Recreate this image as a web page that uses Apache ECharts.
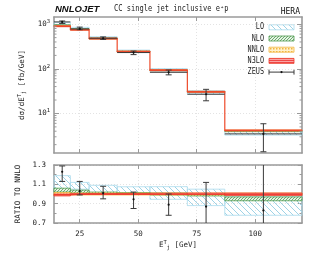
<!DOCTYPE html>
<html><head><meta charset="utf-8">
<script src="https://cdn.jsdelivr.net/npm/echarts@6/dist/echarts.min.js"></script>
<style>html,body{margin:0;padding:0;background:#fff}#c{width:312px;height:255px}</style>
</head><body><div id="c"></div>
<script>
// ---------------- data ----------------
const binEdges = [14, 21, 29, 41, 55, 71, 87, 120];
const nnloCentral = [915, 760, 480, 245, 94, 31, 4.2];           // fb/GeV
const loRatioLow    = [1.05, 1.05, 1.01, 1.00, 0.945, 0.88, 0.78];
const loRatioHigh   = [1.19, 1.12, 1.09, 1.075, 1.076, 1.05, 0.98];
const nloRatioLow   = [1.02, 1.01, 1.00, 0.995, 0.99, 0.98, 0.93];
const nloRatioHigh  = [1.06, 1.04, 1.02, 1.015, 1.01, 1.00, 0.97];
const nnloRatioLow  = [0.985, 0.99, 0.99, 0.99, 0.99, 0.99, 0.99];
const nnloRatioHigh = [1.015, 1.01, 1.01, 1.01, 1.01, 1.01, 1.01];
const n3loRatioLow  = [0.98, 0.995, 0.995, 0.995, 0.995, 0.995, 0.985];
const n3loRatioHigh = [1.00, 1.005, 1.005, 1.005, 1.008, 1.01, 1.01];
const n3loRatioMid  = [0.99, 1.00, 1.00, 1.00, 1.00, 1.00, 1.00];
const zeusRatio     = [1.23, 1.03, 1.01, 0.945, 0.89, 0.87, 0.83];
const zeusRatioLow  = [1.13, 0.99, 0.95, 0.85, 0.78, 0.62, 0.33];
const zeusRatioHigh = [1.29, 1.13, 1.08, 1.02, 1.00, 1.12, 1.40];
const xTicks = [25, 50, 75, 100];
const logMajor = [10, 100, 1000];
const legendNames = ['LO', 'NLO', 'NNLO', 'N3LO', 'ZEUS'];

// ---------------- styling helpers ----------------
const MONO = '"DejaVu Sans Mono"';
const AX = '#9a9a9a';
const TXT = '#222';

function makePattern(kind) {
  const c = document.createElement('canvas');
  const g = c.getContext('2d');
  if (kind === 'lo') {
    const s = 6; c.width = s; c.height = s;
    g.strokeStyle = '#9fd3e6'; g.lineWidth = 1;
    for (const o of [-s, 0, s]) { g.beginPath(); g.moveTo(o, 0); g.lineTo(o + s, s); g.stroke(); }
  } else if (kind === 'nlo') {
    const s = 3; c.width = s; c.height = s;
    g.fillStyle = '#e6f2e6'; g.fillRect(0, 0, s, s);
    g.strokeStyle = '#5ea45e'; g.lineWidth = 0.9;
    for (const o of [-s, 0, s]) { g.beginPath(); g.moveTo(o, s); g.lineTo(o + s, 0); g.stroke(); }
  } else if (kind === 'nnlo') {
    const s = 3; c.width = s; c.height = s;
    g.fillStyle = '#fff1cc'; g.fillRect(0, 0, s, s);
    g.fillStyle = '#f2b640'; g.fillRect(0, 0, 1.5, 1.5);
  } else {
    c.width = 2; c.height = 2;
    g.fillStyle = '#f04848'; g.fillRect(0, 0, 2, 1);
    g.fillStyle = '#f9a4a4'; g.fillRect(0, 1, 2, 1);
  }
  return { image: c, repeat: 'repeat' };
}
const orders = {
  lo:   { fill: makePattern('lo'),   stroke: '#a9dbec' },
  nlo:  { fill: makePattern('nlo'),  stroke: '#4f9a4f' },
  nnlo: { fill: makePattern('nnlo'), stroke: '#f3b53c' },
  n3lo: { fill: makePattern('n3lo'), stroke: '#ec3b2b' }
};

function bandSeries(xi, yi, lows, highs, scale, st, z) {
  const data = lows.map((l, i) => [binEdges[i], binEdges[i + 1],
    scale ? l * scale[i] : l, scale ? highs[i] * scale[i] : highs[i]]);
  return {
    type: 'custom', xAxisIndex: xi, yAxisIndex: yi, z, silent: true, data,
    encode: { x: [0, 1], y: [2, 3] },
    renderItem(params, api) {
      const a = api.coord([api.value(0), api.value(3)]);
      const b = api.coord([api.value(1), api.value(2)]);
      const cs = params.coordSys;
      const shape = echarts.graphic.clipRectByRect(
        { x: a[0], y: a[1], width: b[0] - a[0], height: Math.max(b[1] - a[1], 0.8) },
        { x: cs.x, y: cs.y, width: cs.width, height: cs.height });
      if (!shape) return;
      return { type: 'rect', shape, style: { fill: st.fill, stroke: st.stroke, lineWidth: 0.8 } };
    }
  };
}

function zeusSeries(xi, yi, scale, withBar) {
  const data = zeusRatio.map((v, i) => [binEdges[i], binEdges[i + 1],
    scale ? v * scale[i] : v,
    scale ? zeusRatioLow[i] * scale[i] : zeusRatioLow[i],
    scale ? zeusRatioHigh[i] * scale[i] : zeusRatioHigh[i]]);
  return {
    type: 'custom', xAxisIndex: xi, yAxisIndex: yi, z: 10, silent: true, data,
    encode: { x: [0, 1], y: [2, 3, 4] },
    renderItem(params, api) {
      const cs = params.coordSys;
      const x0 = api.value(0), x1 = api.value(1);
      const xc = (x0 + x1) / 2;
      const p = api.coord([xc, api.value(2)]);
      const pl = api.coord([xc, api.value(3)]);
      const ph = api.coord([xc, api.value(4)]);
      const top = cs.y, bot = cs.y + cs.height;
      const clip = y => Math.min(Math.max(y, top), bot);
      const col = '#3a3a3a';
      const ch = [];
      if (withBar) {
        const a = api.coord([x0, api.value(2)]), b = api.coord([x1, api.value(2)]);
        ch.push({ type: 'line', shape: { x1: a[0], y1: a[1], x2: b[0], y2: b[1] }, style: { stroke: col, lineWidth: 1 } });
      }
      ch.push({ type: 'line', shape: { x1: p[0], y1: clip(pl[1]), x2: p[0], y2: clip(ph[1]) }, style: { stroke: col, lineWidth: 1 } });
      for (const q of [pl, ph]) {
        if (q[1] >= top && q[1] <= bot)
          ch.push({ type: 'line', shape: { x1: p[0] - 3, y1: q[1], x2: p[0] + 3, y2: q[1] }, style: { stroke: col, lineWidth: 1 } });
      }
      if (p[1] >= top && p[1] <= bot)
        ch.push({ type: 'circle', shape: { cx: p[0], cy: p[1], r: 1.1 }, style: { fill: '#111' } });
      return { type: 'group', children: ch };
    }
  };
}

function stepData(mid, scale) {
  return binEdges.map((e, i) => {
    const k = Math.min(i, mid.length - 1);
    return [e, scale ? mid[k] * scale[k] : mid[k]];
  });
}

// log minor tick values (axis decoration)
const logMinor = [];
for (const d of [1, 10, 100, 1000]) for (let m = 2; m <= 9; m++) logMinor.push(m * d);

const minorTickSeries = {
  type: 'custom', xAxisIndex: 0, yAxisIndex: 0, z: 20, silent: true,
  data: logMinor.filter(v => v > 1.3 && v < 1450).map(v => [binEdges[0], v]),
  encode: { x: 0, y: 1 },
  renderItem(params, api) {
    const cs = params.coordSys;
    const p = api.coord([api.value(0), api.value(1)]);
    const st = { stroke: AX, lineWidth: 1 };
    return { type: 'group', children: [
      { type: 'line', shape: { x1: cs.x, y1: p[1], x2: cs.x + 2.5, y2: p[1] }, style: st },
      { type: 'line', shape: { x1: cs.x + cs.width - 2.5, y1: p[1], x2: cs.x + cs.width, y2: p[1] }, style: st }
    ] };
  }
};

const grid0 = { left: 54, right: 10, top: 17, height: 136 };
const grid1 = { left: 54, right: 10, top: 165, height: 58 };

const axisLine = { show: true, lineStyle: { color: AX, width: 1.6 } };
const split = { show: true, lineStyle: { color: '#dcdcdc', width: 0.8, type: [1, 2] } };
const supRich = {
  sup: { fontSize: 5.5, fontFamily: MONO, color: TXT, padding: [0, 0, 5, 0] },
  sub: { fontSize: 5.5, fontFamily: MONO, color: TXT, padding: [4, 0, 0, 0] },
  t: { fontSize: 7.5, fontFamily: MONO, color: TXT }
};

function xAx(gi, pos, labels) {
  return {
    type: 'value', gridIndex: gi, position: pos, min: binEdges[0], max: binEdges[binEdges.length - 1],
    axisLine, splitLine: pos === 'bottom' ? split : { show: false },
    axisTick: { show: true, inside: true, length: 4, customValues: xTicks, lineStyle: { color: AX, width: 1 } },
    axisLabel: labels ? { show: true, customValues: xTicks, fontFamily: MONO, fontSize: 7.5, color: TXT, margin: 7 } : { show: false }
  };
}

const logFmt = v => {
  const l = Math.log10(v), e = Math.round(l);
  if (Math.abs(l - e) > 1e-6) return '';
  return '{t|10}{sup|' + e + '}';
};

const option = {
  animation: false,
  backgroundColor: '#fff',
  grid: [grid0, grid1],
  xAxis: [
    xAx(0, 'bottom', false),
    xAx(0, 'top', false),
    Object.assign(xAx(1, 'bottom', true), {
      name: '{t|E}{sup|T}{sub|j}{t| [GeV]}', nameLocation: 'middle', nameGap: 17,
      nameTextStyle: { rich: supRich }
    }),
    xAx(1, 'top', false)
  ],
  yAxis: [
    {
      type: 'log', gridIndex: 0, min: 1.3, max: 1450, position: 'left',
      axisLine, splitLine: split,
      axisTick: { show: true, inside: true, length: 5, customValues: logMajor, lineStyle: { color: AX, width: 1 } },
      axisLabel: { show: true, customValues: logMajor, formatter: logFmt, rich: supRich, margin: 4, align: 'right' },
      name: '{t|dσ/dE}{sup|T}{sub|j}{t| [fb/GeV]}', nameLocation: 'middle', nameGap: 20,
      nameTextStyle: { rich: supRich }
    },
    {
      type: 'log', gridIndex: 0, min: 1.3, max: 1450, position: 'right',
      axisLine, splitLine: { show: false },
      axisTick: { show: true, inside: true, length: 5, customValues: logMajor, lineStyle: { color: AX, width: 1 } },
      axisLabel: { show: false }
    },
    {
      type: 'value', gridIndex: 1, min: 0.7, max: 1.3, interval: 0.2, position: 'left',
      axisLine, splitLine: split,
      axisTick: { show: true, inside: true, length: 4, lineStyle: { color: AX, width: 1 } },
      minorTick: { show: true, splitNumber: 2, length: 2.5, lineStyle: { color: AX } },
      axisLabel: { formatter: v => v.toFixed(1), fontFamily: MONO, fontSize: 7.5, color: TXT, margin: 8 },
      name: 'RATIO TO NNLO', nameLocation: 'middle', nameGap: 31,
      nameTextStyle: { fontFamily: MONO, fontSize: 7.5, color: TXT }
    },
    {
      type: 'value', gridIndex: 1, min: 0.7, max: 1.3, interval: 0.2, position: 'right',
      axisLine, splitLine: { show: false },
      axisTick: { show: true, inside: true, length: 4, lineStyle: { color: AX, width: 1 } },
      minorTick: { show: true, splitNumber: 2, length: 2.5, lineStyle: { color: AX } },
      axisLabel: { show: false }
    }
  ],
  series: [
    bandSeries(0, 0, loRatioLow, loRatioHigh, nnloCentral, orders.lo, 2),
    bandSeries(0, 0, nloRatioLow, nloRatioHigh, nnloCentral, orders.nlo, 3),
    bandSeries(0, 0, nnloRatioLow, nnloRatioHigh, nnloCentral, orders.nnlo, 4),
    bandSeries(0, 0, n3loRatioLow, n3loRatioHigh, nnloCentral, orders.n3lo, 5),
    { type: 'line', xAxisIndex: 0, yAxisIndex: 0, step: 'end', symbol: 'none', z: 6, silent: true,
      data: stepData(n3loRatioMid, nnloCentral), lineStyle: { color: '#ee4a2a', width: 1.2 } },
    zeusSeries(0, 0, nnloCentral, true),
    minorTickSeries,

    bandSeries(2, 2, loRatioLow, loRatioHigh, null, orders.lo, 2),
    bandSeries(2, 2, nloRatioLow, nloRatioHigh, null, orders.nlo, 3),
    bandSeries(2, 2, nnloRatioLow, nnloRatioHigh, null, orders.nnlo, 4),
    bandSeries(2, 2, n3loRatioLow, n3loRatioHigh, null, orders.n3lo, 5),
    { type: 'line', xAxisIndex: 2, yAxisIndex: 2, step: 'end', symbol: 'none', z: 6, silent: true,
      data: stepData(n3loRatioMid, null), lineStyle: { color: '#ee3a2a', width: 1.2 } },
    zeusSeries(2, 2, null, false)
  ],
  graphic: []
};

// titles
option.graphic.push(
  { type: 'text', x: 55, y: 9, style: { text: 'NNLOJET', font: 'italic bold 9.5px "Liberation Sans"', fill: '#111', verticalAlign: 'middle' } },
  { type: 'text', x: 114, y: 8.5, scaleX: 0.88, style: { text: 'CC single jet inclusive e⁺p', font: '8px ' + MONO, fill: TXT, verticalAlign: 'middle' } },
  { type: 'text', x: 300, y: 11.5, style: { text: 'HERA', font: '8px ' + MONO, fill: '#111', align: 'right', verticalAlign: 'middle' } }
);
// legend
const legKeys = ['lo', 'nlo', 'nnlo', 'n3lo'];
legendNames.forEach((nm, i) => {
  const y = 27.3 + i * 11.2;
  option.graphic.push({ type: 'text', x: 264, y, scaleX: 0.85, style: { text: nm, font: '8px ' + MONO, fill: TXT, align: 'right', verticalAlign: 'middle' } });
  if (i < 4) {
    const st = orders[legKeys[i]];
    option.graphic.push({ type: 'rect', shape: { x: 269, y: y - 2.5, width: 25, height: 5 }, style: { fill: st.fill, stroke: st.stroke, lineWidth: 0.8 } });
  } else {
    const col = '#3a3a3a';
    option.graphic.push(
      { type: 'line', shape: { x1: 269, y1: y, x2: 294, y2: y }, style: { stroke: col, lineWidth: 1 } },
      { type: 'line', shape: { x1: 269, y1: y - 2.5, x2: 269, y2: y + 2.5 }, style: { stroke: col, lineWidth: 1 } },
      { type: 'line', shape: { x1: 294, y1: y - 2.5, x2: 294, y2: y + 2.5 }, style: { stroke: col, lineWidth: 1 } },
      { type: 'circle', shape: { cx: 281.5, cy: y, r: 1.1 }, style: { fill: '#111' } }
    );
  }
});

const chart = echarts.init(document.getElementById('c'), null, { renderer: 'canvas' });
chart.setOption(option);
</script>
</body></html>
